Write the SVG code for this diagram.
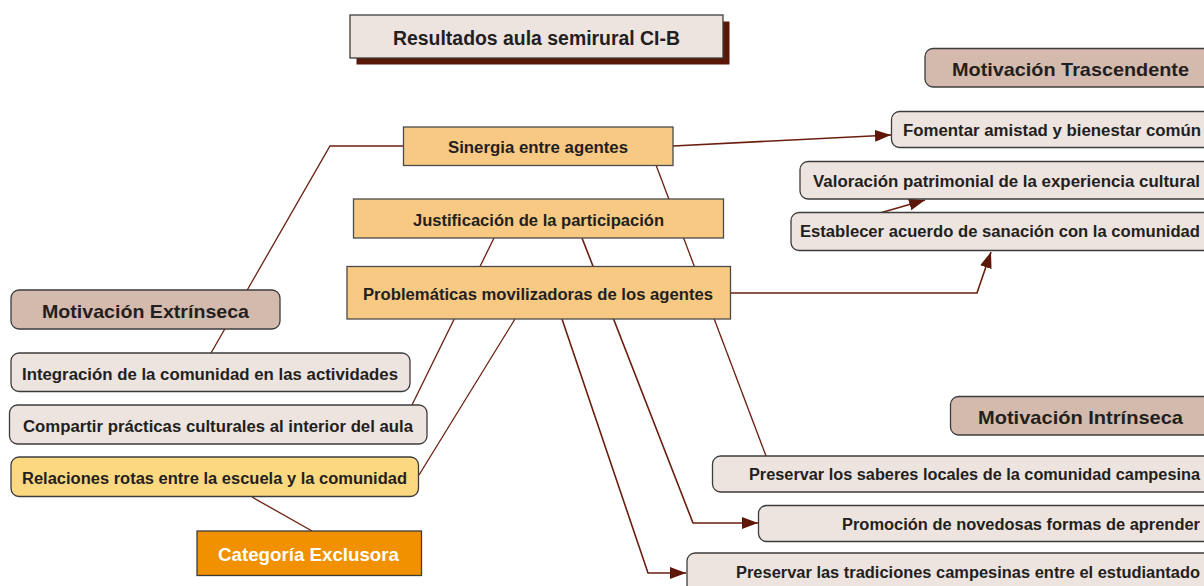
<svg xmlns="http://www.w3.org/2000/svg" width="1204" height="586" viewBox="0 0 1204 586">
<defs>
<marker id="arr" markerUnits="userSpaceOnUse" markerWidth="17" markerHeight="13" refX="16" refY="6" orient="auto">
<path d="M0,0 L16,6 L0,12 z" fill="#5E1607"/>
</marker>
<style>
.t{font-family:"Liberation Sans",Arial,sans-serif;font-weight:bold;fill:#231f20}
.n{font-size:16.8px}
.s{font-size:15.6px}
.c{font-size:19px}
.lt{fill:#ede4e0;stroke:#3c3c3c;stroke-width:1.3}
.cat{fill:#d4baad;stroke:#3c3c3c;stroke-width:1.3}
.or{fill:#f7c983;stroke:#4a4a4a;stroke-width:1.3}
.e{fill:none;stroke:#6a1e0e;stroke-width:1.3}
.ea{fill:none;stroke:#6a1e0e;stroke-width:1.6;marker-end:url(#arr)}
</style>
</defs>
<rect width="1204" height="586" fill="#ffffff"/>
<g id="connectors">
<polyline class="e" points="404,146 330,146 211,353"/>
<line class="ea" x1="673" y1="146" x2="891" y2="135"/>
<line class="e" x1="656" y1="165" x2="766" y2="456"/>
<line class="e" x1="494" y1="238" x2="412" y2="405"/>
<polyline class="ea" points="582,238 693,523 758,523"/>
<polyline class="ea" points="562,319 648,573 686,573"/>
<line class="e" x1="515" y1="319" x2="419" y2="475"/>
<polyline class="ea" points="731,293 977,293 991,252"/>
<line class="ea" x1="880" y1="213" x2="925" y2="200"/>
<line class="e" x1="252" y1="497" x2="312" y2="531"/>
</g>
<g id="title">
<rect x="356.5" y="21.5" width="373" height="43" fill="#5a1607"/>
<rect x="350" y="15" width="373" height="43" fill="#ede4e0" stroke="#3c3c3c" stroke-width="1.3"/>
<text class="t" x="393" y="44.5" font-size="19.5" textLength="287" lengthAdjust="spacingAndGlyphs">Resultados aula semirural CI-B</text>
</g>
<g id="mot-trascendente">
<rect class="cat" x="925" y="48.5" width="300" height="38.5" rx="8"/>
<text class="t c" x="952" y="75.5" textLength="237" lengthAdjust="spacingAndGlyphs">Motivación Trascendente</text>
</g>
<g id="fomentar">
<rect class="lt" x="891.5" y="111.5" width="330" height="36" rx="8"/>
<text class="t n" x="903" y="136" textLength="298" lengthAdjust="spacingAndGlyphs">Fomentar amistad y bienestar común</text>
</g>
<g id="valoracion">
<rect class="lt" x="800" y="161.5" width="420" height="37.5" rx="8"/>
<text class="t n" x="813" y="187" textLength="387" lengthAdjust="spacingAndGlyphs">Valoración patrimonial de la experiencia cultural</text>
</g>
<g id="establecer">
<rect class="lt" x="791" y="212.5" width="430" height="38" rx="8"/>
<text class="t n" x="800" y="237" textLength="400" lengthAdjust="spacingAndGlyphs">Establecer acuerdo de sanación con la comunidad</text>
</g>
<g id="sinergia">
<rect class="or" x="403.5" y="127" width="269.5" height="38.5"/>
<text class="t n" x="448" y="153" textLength="180" lengthAdjust="spacingAndGlyphs">Sinergia entre agentes</text>
</g>
<g id="justificacion">
<rect class="or" x="353.5" y="199" width="370" height="39"/>
<text class="t n" x="413" y="226" textLength="251" lengthAdjust="spacingAndGlyphs">Justificación de la participación</text>
</g>
<g id="problematicas">
<rect class="or" x="347" y="266.5" width="383.5" height="52.5"/>
<text class="t n" x="363" y="300" textLength="350" lengthAdjust="spacingAndGlyphs">Problemáticas movilizadoras de los agentes</text>
</g>
<g id="mot-extrinseca">
<rect class="cat" x="11" y="290" width="269" height="39" rx="8"/>
<text class="t c" x="42" y="317.5" textLength="207" lengthAdjust="spacingAndGlyphs">Motivación Extrínseca</text>
</g>
<g id="integracion">
<rect class="lt" x="11" y="353" width="399" height="38.5" rx="8"/>
<text class="t n" x="22" y="380" textLength="376" lengthAdjust="spacingAndGlyphs">Integración de la comunidad en las actividades</text>
</g>
<g id="compartir">
<rect class="lt" x="9.5" y="405" width="417.5" height="39" rx="8"/>
<text class="t n" x="23" y="432" textLength="390" lengthAdjust="spacingAndGlyphs">Compartir prácticas culturales al interior del aula</text>
</g>
<g id="relaciones">
<rect x="11" y="457" width="407.5" height="39.5" rx="8" fill="#fcd980" stroke="#3c3c3c" stroke-width="1.3"/>
<text class="t n" x="22" y="483.5" textLength="385" lengthAdjust="spacingAndGlyphs">Relaciones rotas entre la escuela y la comunidad</text>
</g>
<g id="exclusora">
<rect x="197" y="531" width="224.5" height="44.5" fill="#f29100" stroke="#3c3c3c" stroke-width="1.3"/>
<text x="218" y="560.5" font-family="Liberation Sans,Arial,sans-serif" font-weight="bold" font-size="19" fill="#ffffff" textLength="181" lengthAdjust="spacingAndGlyphs">Categoría Exclusora</text>
</g>
<g id="mot-intrinseca">
<rect class="cat" x="950.5" y="396.5" width="280" height="38.5" rx="8"/>
<text class="t c" x="978" y="424" textLength="205" lengthAdjust="spacingAndGlyphs">Motivación Intrínseca</text>
</g>
<g id="saberes">
<rect class="lt" x="712.5" y="456" width="520" height="36" rx="8"/>
<text class="t s" x="749" y="480" textLength="451" lengthAdjust="spacingAndGlyphs">Preservar los saberes locales de la comunidad campesina</text>
</g>
<g id="promocion">
<rect class="lt" x="758.5" y="505.5" width="470" height="36" rx="8"/>
<text class="t s" x="842" y="529.5" textLength="358" lengthAdjust="spacingAndGlyphs">Promoción de novedosas formas de aprender</text>
</g>
<g id="tradiciones">
<rect class="lt" x="687" y="553" width="540" height="40" rx="8"/>
<text class="t s" x="736" y="577.5" textLength="464" lengthAdjust="spacingAndGlyphs">Preservar las tradiciones campesinas entre el estudiantado</text>
</g>
</svg>
